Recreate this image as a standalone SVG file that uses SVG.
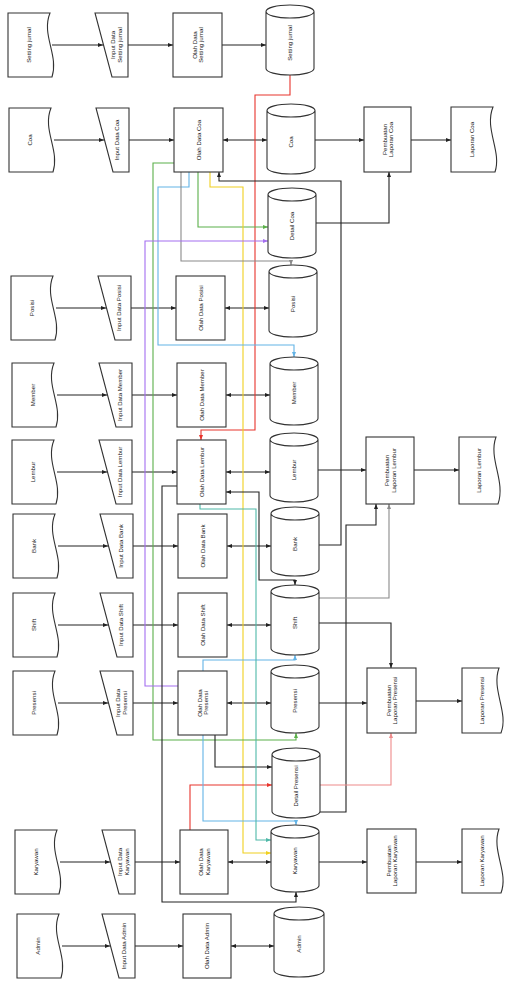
<svg xmlns="http://www.w3.org/2000/svg" width="508" height="981" viewBox="0 0 508 981">
<style>
.n{fill:#fff;stroke:#333;stroke-width:1.1}
.t{font-family:"Liberation Sans",Arial,sans-serif;font-size:6.1px;fill:#222;text-anchor:middle}
.c{fill:none;stroke-width:1.1}
.k{stroke:#222;marker-end:url(#ak)}
.kb{stroke:#222;marker-end:url(#ak);marker-start:url(#ak)}
.r{stroke:#e8342c;marker-end:url(#ar)}
.p{stroke:#ee8a8a;marker-end:url(#ap)}
.g{stroke:#5bb04a;marker-end:url(#ag)}
.y{stroke:#f0d020;marker-end:url(#ay)}
.b{stroke:#63b3e6;marker-end:url(#ab)}
.v{stroke:#a46ef0;marker-end:url(#av)}
.e{stroke:#8a8a8a;marker-end:url(#ae)}
.q{stroke:#4fb8a8;marker-end:url(#aq)}
</style>
<defs>
<marker id="ak" viewBox="0 0 10 10" refX="10" refY="5" markerUnits="userSpaceOnUse" markerWidth="5" markerHeight="5" orient="auto-start-reverse"><path d="M0 1L10 5L0 9Z" fill="#222"/></marker>
<marker id="ar" viewBox="0 0 10 10" refX="10" refY="5" markerUnits="userSpaceOnUse" markerWidth="5" markerHeight="5" orient="auto-start-reverse"><path d="M0 1L10 5L0 9Z" fill="#e8342c"/></marker>
<marker id="ap" viewBox="0 0 10 10" refX="10" refY="5" markerUnits="userSpaceOnUse" markerWidth="5" markerHeight="5" orient="auto-start-reverse"><path d="M0 1L10 5L0 9Z" fill="#ee8a8a"/></marker>
<marker id="ag" viewBox="0 0 10 10" refX="10" refY="5" markerUnits="userSpaceOnUse" markerWidth="5" markerHeight="5" orient="auto-start-reverse"><path d="M0 1L10 5L0 9Z" fill="#5bb04a"/></marker>
<marker id="ay" viewBox="0 0 10 10" refX="10" refY="5" markerUnits="userSpaceOnUse" markerWidth="5" markerHeight="5" orient="auto-start-reverse"><path d="M0 1L10 5L0 9Z" fill="#f0d020"/></marker>
<marker id="ab" viewBox="0 0 10 10" refX="10" refY="5" markerUnits="userSpaceOnUse" markerWidth="5" markerHeight="5" orient="auto-start-reverse"><path d="M0 1L10 5L0 9Z" fill="#63b3e6"/></marker>
<marker id="av" viewBox="0 0 10 10" refX="10" refY="5" markerUnits="userSpaceOnUse" markerWidth="5" markerHeight="5" orient="auto-start-reverse"><path d="M0 1L10 5L0 9Z" fill="#a46ef0"/></marker>
<marker id="ae" viewBox="0 0 10 10" refX="10" refY="5" markerUnits="userSpaceOnUse" markerWidth="5" markerHeight="5" orient="auto-start-reverse"><path d="M0 1L10 5L0 9Z" fill="#8a8a8a"/></marker>
<marker id="aq" viewBox="0 0 10 10" refX="10" refY="5" markerUnits="userSpaceOnUse" markerWidth="5" markerHeight="5" orient="auto-start-reverse"><path d="M0 1L10 5L0 9Z" fill="#4fb8a8"/></marker>
</defs>
<rect width="508" height="981" fill="#fff"/>
<g id="connectors">
<path class="c k" d="M52 45H103"/><path class="c k" d="M128 45H173"/><path class="c k" d="M222 45H266"/>
<path class="c k" d="M54 140H104"/><path class="c k" d="M129 140H174"/><path class="c kb" d="M223 140H267"/><path class="c k" d="M315 140H364"/><path class="c k" d="M411 140H451"/>
<path class="c k" d="M56 308H106"/><path class="c k" d="M131 308H176"/><path class="c kb" d="M225 308H269"/>
<path class="c k" d="M57 395H107"/><path class="c k" d="M132 395H177"/><path class="c kb" d="M226 395H270"/>
<path class="c k" d="M57 472H107"/><path class="c k" d="M132 472H177"/><path class="c kb" d="M226 472H270"/><path class="c k" d="M318 470H366"/><path class="c k" d="M414 470H459"/>
<path class="c k" d="M58 546H108"/><path class="c k" d="M133 546H178"/><path class="c kb" d="M227 546H271"/>
<path class="c k" d="M58 625H108"/><path class="c k" d="M133 625H178"/><path class="c kb" d="M227 625H271"/>
<path class="c k" d="M58 703H108"/><path class="c k" d="M133 703H178"/><path class="c kb" d="M227 703H271"/><path class="c k" d="M319 703H367"/><path class="c k" d="M416 701H462"/>
<path class="c k" d="M60 862H110"/><path class="c k" d="M135 862H180"/><path class="c kb" d="M228 862H271"/><path class="c k" d="M319 862H367"/><path class="c k" d="M416 862H462"/>
<path class="c k" d="M62 946H110"/><path class="c k" d="M135 946H183"/><path class="c kb" d="M231 946H274"/>
<path class="c r" d="M290 75V95H255V430H201V440"/>
<path class="c k" d="M316 223H389V172"/>
<path class="c k" d="M319 545H341V181H219V172"/>
<path class="c g" d="M198 172V227H268"/>
<path class="c y" d="M210 172V187H243V853H271"/>
<path class="c b" d="M189 172V187H158V345H294V357"/>
<path class="c e" d="M181 172V261H291V265"/>
<path class="c g" d="M174 163H153V740H296V733"/>
<path class="c v" d="M178 686H145V241H268"/>
<path class="c k" d="M177 486H162V902H296V892"/>
<path class="c kb" d="M226 492H259V580H295V585"/>
<path class="c k" d="M318 812H346V525H376V504"/>
<path class="c e" d="M319 598H389V504"/>
<path class="c k" d="M319 623H391V668"/>
<path class="c p" d="M320 785H391V733"/>
<path class="c r" d="M190 830V785H272"/>
<path class="c k" d="M215 735V767H272"/>
<path class="c b" d="M203 671V660H295V655"/>
<path class="c b" d="M203 735V821H296V825"/>
<path class="c q" d="M200 504V509H256V840H271"/>
</g>
<g id="row1">
<g id="doc-setting"><path class="n" d="M8 13H50C41 35 59 55 52 77H8Z"/><text class="t" transform="translate(29 45) rotate(-90)" y="2.2">Setting jurnal</text></g>
<g id="in-setting"><polygon class="n" points="95,13 128,13 128,77 112,77"/><text class="t" transform="translate(116 45) rotate(-90)"><tspan x="0" y="-1">Input Data</tspan><tspan x="0" y="5.8">Setting jurnal</tspan></text></g>
<g id="proc-setting"><rect class="n" x="173" y="13" width="49" height="64"/><text class="t" transform="translate(197.5 45) rotate(-90)"><tspan x="0" y="-1">Olah Data</tspan><tspan x="0" y="5.8">Setting jurnal</tspan></text></g>
<g id="db-setting"><path class="n" d="M266 11.5V68.5A24 6.5 0 0 0 314 68.5V11.5A24 6.5 0 0 0 266 11.5ZM266 11.5A24 6.5 0 0 0 314 11.5"/><text class="t" transform="translate(290 43) rotate(-90)" y="2.2">Setting jurnal</text></g>
</g>
<g id="row2">
<g id="doc-coa"><path class="n" d="M9 108H51C42 130 60 150 53 172H9Z"/><text class="t" transform="translate(30 140) rotate(-90)" y="2.2">Coa</text></g>
<g id="in-coa"><polygon class="n" points="96,108 129,108 129,172 113,172"/><text class="t" transform="translate(117 140) rotate(-90)" y="2.2">Input Data Coa</text></g>
<g id="proc-coa"><rect class="n" x="174" y="108" width="49" height="64"/><text class="t" transform="translate(198.5 140) rotate(-90)" y="2.2">Olah Data Coa</text></g>
<g id="db-coa"><path class="n" d="M267 110.5V167.5A24 6.5 0 0 0 315 167.5V110.5A24 6.5 0 0 0 267 110.5ZM267 110.5A24 6.5 0 0 0 315 110.5"/><text class="t" transform="translate(291 142) rotate(-90)" y="2.2">Coa</text></g>
<g id="rp-coa"><rect class="n" x="364" y="107" width="47" height="65"/><text class="t" transform="translate(387.5 139.5) rotate(-90)"><tspan x="0" y="-1">Pembuatan</tspan><tspan x="0" y="5.8">Laporan Coa</tspan></text></g>
<g id="rd-coa"><path class="n" d="M451 107H493C484 129 502 151 495 172H451Z"/><text class="t" transform="translate(472 139.5) rotate(-90)" y="2.2">Laporan Coa</text></g>
</g>
<g id="db-detailcoa"><path class="n" d="M268 194.5V251.5A24 6.5 0 0 0 316 251.5V194.5A24 6.5 0 0 0 268 194.5ZM268 194.5A24 6.5 0 0 0 316 194.5"/><text class="t" transform="translate(292 226) rotate(-90)" y="2.2">Detail Coa</text></g>
<g id="row4">
<g id="doc-posisi"><path class="n" d="M11 276H53C44 298 62 318 55 340H11Z"/><text class="t" transform="translate(32 308) rotate(-90)" y="2.2">Posisi</text></g>
<g id="in-posisi"><polygon class="n" points="98,276 131,276 131,340 115,340"/><text class="t" transform="translate(119 308) rotate(-90)" y="2.2">Input Data Posisi</text></g>
<g id="proc-posisi"><rect class="n" x="176" y="276" width="49" height="64"/><text class="t" transform="translate(200.5 308) rotate(-90)" y="2.2">Olah Data Posisi</text></g>
<g id="db-posisi"><path class="n" d="M269 271.5V330.5A24 6.5 0 0 0 317 330.5V271.5A24 6.5 0 0 0 269 271.5ZM269 271.5A24 6.5 0 0 0 317 271.5"/><text class="t" transform="translate(293 304) rotate(-90)" y="2.2">Posisi</text></g>
</g>
<g id="row5">
<g id="doc-member"><path class="n" d="M12 363H54C45 385 63 405 56 427H12Z"/><text class="t" transform="translate(33 395) rotate(-90)" y="2.2">Member</text></g>
<g id="in-member"><polygon class="n" points="99,363 132,363 132,427 116,427"/><text class="t" transform="translate(120 395) rotate(-90)" y="2.2">Input Data Member</text></g>
<g id="proc-member"><rect class="n" x="177" y="363" width="49" height="64"/><text class="t" transform="translate(201.5 395) rotate(-90)" y="2.2">Olah Data Member</text></g>
<g id="db-member"><path class="n" d="M270 363.5V418.5A24 6.5 0 0 0 318 418.5V363.5A24 6.5 0 0 0 270 363.5ZM270 363.5A24 6.5 0 0 0 318 363.5"/><text class="t" transform="translate(294 393) rotate(-90)" y="2.2">Member</text></g>
</g>
<g id="row6">
<g id="doc-lembur"><path class="n" d="M12 440H54C45 462 63 482 56 504H12Z"/><text class="t" transform="translate(33 472) rotate(-90)" y="2.2">Lembur</text></g>
<g id="in-lembur"><polygon class="n" points="99,440 132,440 132,504 116,504"/><text class="t" transform="translate(120 472) rotate(-90)" y="2.2">Input Data Lembur</text></g>
<g id="proc-lembur"><rect class="n" x="177" y="440" width="49" height="64"/><text class="t" transform="translate(201.5 472) rotate(-90)" y="2.2">Olah Data Lembur</text></g>
<g id="db-lembur"><path class="n" d="M270 439.5V495.5A24 6.5 0 0 0 318 495.5V439.5A24 6.5 0 0 0 270 439.5ZM270 439.5A24 6.5 0 0 0 318 439.5"/><text class="t" transform="translate(294 470) rotate(-90)" y="2.2">Lembur</text></g>
<g id="rp-lembur"><rect class="n" x="366" y="437" width="48" height="67"/><text class="t" transform="translate(390 470.5) rotate(-90)"><tspan x="0" y="-1">Pembuatan</tspan><tspan x="0" y="5.8">Laporan Lembur</tspan></text></g>
<g id="rd-lembur"><path class="n" d="M459 437H496C488 459 506 481 498 504H459Z"/><text class="t" transform="translate(479 470.5) rotate(-90)" y="2.2">Laporan Lembur</text></g>
</g>
<g id="row7">
<g id="doc-bank"><path class="n" d="M13 514H55C46 536 64 556 57 578H13Z"/><text class="t" transform="translate(34 546) rotate(-90)" y="2.2">Bank</text></g>
<g id="in-bank"><polygon class="n" points="100,514 133,514 133,578 117,578"/><text class="t" transform="translate(121 546) rotate(-90)" y="2.2">Input Data Bank</text></g>
<g id="proc-bank"><rect class="n" x="178" y="514" width="49" height="64"/><text class="t" transform="translate(202.5 546) rotate(-90)" y="2.2">Olah Data Bank</text></g>
<g id="db-bank"><path class="n" d="M271 513.5V569.5A24 6.5 0 0 0 319 569.5V513.5A24 6.5 0 0 0 271 513.5ZM271 513.5A24 6.5 0 0 0 319 513.5"/><text class="t" transform="translate(295 544) rotate(-90)" y="2.2">Bank</text></g>
</g>
<g id="row8">
<g id="doc-shift"><path class="n" d="M13 593H55C46 615 64 635 57 657H13Z"/><text class="t" transform="translate(34 625) rotate(-90)" y="2.2">Shift</text></g>
<g id="in-shift"><polygon class="n" points="100,593 133,593 133,657 117,657"/><text class="t" transform="translate(121 625) rotate(-90)" y="2.2">Input Data Shift</text></g>
<g id="proc-shift"><rect class="n" x="178" y="593" width="49" height="64"/><text class="t" transform="translate(202.5 625) rotate(-90)" y="2.2">Olah Data Shift</text></g>
<g id="db-shift"><path class="n" d="M271 591.5V648.5A24 6.5 0 0 0 319 648.5V591.5A24 6.5 0 0 0 271 591.5ZM271 591.5A24 6.5 0 0 0 319 591.5"/><text class="t" transform="translate(295 623) rotate(-90)" y="2.2">Shift</text></g>
</g>
<g id="row9">
<g id="doc-presensi"><path class="n" d="M13 671H55C46 693 64 713 57 735H13Z"/><text class="t" transform="translate(34 703) rotate(-90)" y="2.2">Presensi</text></g>
<g id="in-presensi"><polygon class="n" points="100,671 133,671 133,735 117,735"/><text class="t" transform="translate(121 703) rotate(-90)"><tspan x="0" y="-1">Input Data</tspan><tspan x="0" y="5.8">Presensi</tspan></text></g>
<g id="proc-presensi"><rect class="n" x="178" y="671" width="49" height="64"/><text class="t" transform="translate(202.5 703) rotate(-90)"><tspan x="0" y="-1">Olah Data</tspan><tspan x="0" y="5.8">Presensi</tspan></text></g>
<g id="db-presensi"><path class="n" d="M271 671.5V726.5A24 6.5 0 0 0 319 726.5V671.5A24 6.5 0 0 0 271 671.5ZM271 671.5A24 6.5 0 0 0 319 671.5"/><text class="t" transform="translate(295 701) rotate(-90)" y="2.2">Presensi</text></g>
<g id="rp-presensi"><rect class="n" x="367" y="668" width="49" height="65"/><text class="t" transform="translate(391.5 700.5) rotate(-90)"><tspan x="0" y="-1">Pembuatan</tspan><tspan x="0" y="5.8">Laporan Presensi</tspan></text></g>
<g id="rd-presensi"><path class="n" d="M462 668H499C491 690 509 712 501 733H462Z"/><text class="t" transform="translate(482 700.5) rotate(-90)" y="2.2">Laporan Presensi</text></g>
</g>
<g id="db-detailpresensi"><path class="n" d="M272 754.5V811.5A24 6.5 0 0 0 320 811.5V754.5A24 6.5 0 0 0 272 754.5ZM272 754.5A24 6.5 0 0 0 320 754.5"/><text class="t" transform="translate(296 786) rotate(-90)" y="2.2">Detail Presensi</text></g>
<g id="row11">
<g id="doc-karyawan"><path class="n" d="M15 830H57C48 852 66 872 59 894H15Z"/><text class="t" transform="translate(36 862) rotate(-90)" y="2.2">Karyawan</text></g>
<g id="in-karyawan"><polygon class="n" points="102,830 135,830 135,894 119,894"/><text class="t" transform="translate(123 862) rotate(-90)"><tspan x="0" y="-1">Input Data</tspan><tspan x="0" y="5.8">Karyawan</tspan></text></g>
<g id="proc-karyawan"><rect class="n" x="180" y="830" width="48" height="64"/><text class="t" transform="translate(204 862) rotate(-90)"><tspan x="0" y="-1">Olah Data</tspan><tspan x="0" y="5.8">Karyawan</tspan></text></g>
<g id="db-karyawan"><path class="n" d="M271 831.5V885.5A24 6.5 0 0 0 319 885.5V831.5A24 6.5 0 0 0 271 831.5ZM271 831.5A24 6.5 0 0 0 319 831.5"/><text class="t" transform="translate(295 861) rotate(-90)" y="2.2">Karyawan</text></g>
<g id="rp-karyawan"><rect class="n" x="367" y="829" width="49" height="64"/><text class="t" transform="translate(391.5 861) rotate(-90)"><tspan x="0" y="-1">Pembuatan</tspan><tspan x="0" y="5.8">Laporan Karyawan</tspan></text></g>
<g id="rd-karyawan"><path class="n" d="M462 829H499C491 851 509 872 501 893H462Z"/><text class="t" transform="translate(482 861) rotate(-90)" y="2.2">Laporan Karyawan</text></g>
</g>
<g id="row12">
<g id="doc-admin"><path class="n" d="M17 914H59C50 936 68 956 61 978H17Z"/><text class="t" transform="translate(38 946) rotate(-90)" y="2.2">Admin</text></g>
<g id="in-admin"><polygon class="n" points="102,914 135,914 135,978 119,978"/><text class="t" transform="translate(124 946) rotate(-90)" y="2.2">Input Data Admin</text></g>
<g id="proc-admin"><rect class="n" x="183" y="914" width="48" height="64"/><text class="t" transform="translate(207 946) rotate(-90)" y="2.2">Olah Data Admin</text></g>
<g id="db-admin"><path class="n" d="M274 913.5V970.5A25 6.5 0 0 0 324 970.5V913.5A25 6.5 0 0 0 274 913.5ZM274 913.5A25 6.5 0 0 0 324 913.5"/><text class="t" transform="translate(299 944) rotate(-90)" y="2.2">Admin</text></g>
</g>
</svg>
